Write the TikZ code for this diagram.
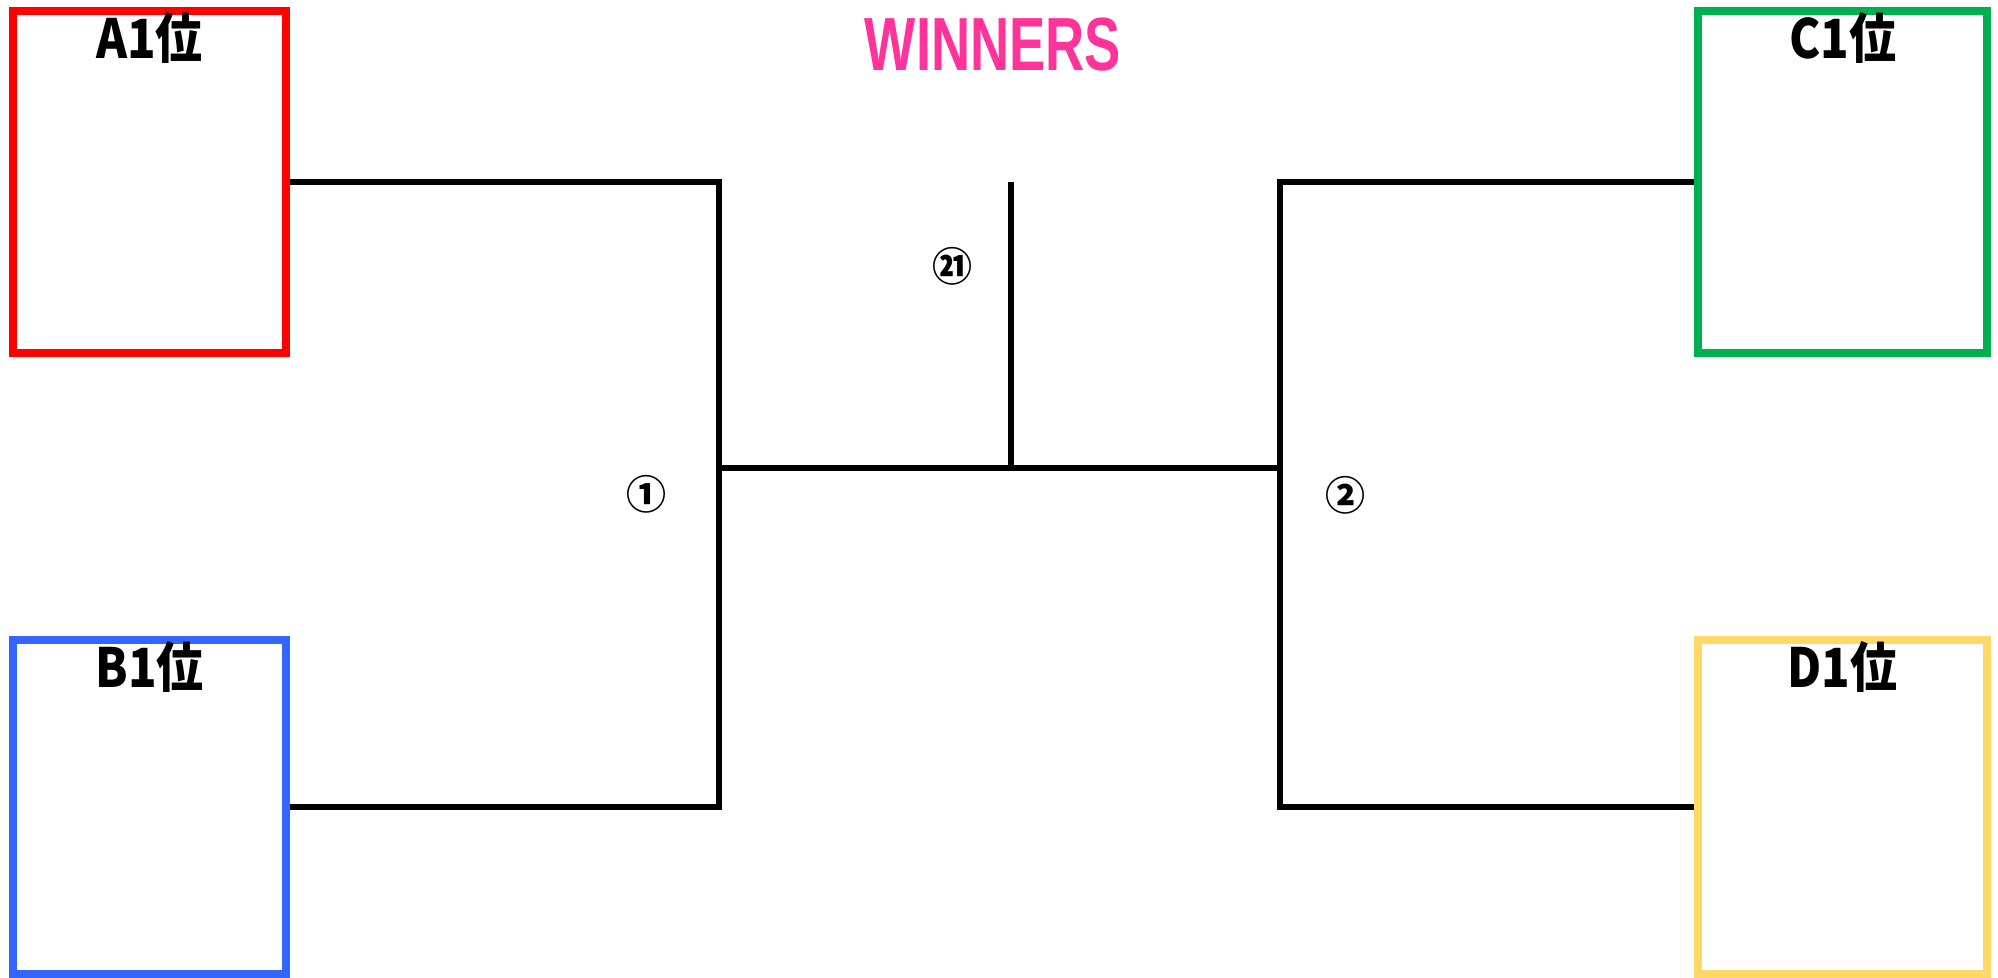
\documentclass[tikz,border=0pt]{standalone}
\usepackage{fontspec}
\usepackage{tikz}
\setmainfont{Liberation Sans}
\newfontfamily\jpfont{Noto Sans CJK JP}

\definecolor{winPink}{HTML}{FF3399}
\definecolor{grpRed}{HTML}{FF0000}
\definecolor{grpBlue}{HTML}{3366FF}
\definecolor{grpGreen}{HTML}{00B050}
\definecolor{grpYellow}{HTML}{FFD966}

\begin{document}
\begin{tikzpicture}[x=0.5pt, y=-0.5pt,
    box/.style={draw, line width=3.8pt, minimum width=136.5pt, inner sep=0pt},
    tag/.style={font=\jpfont\bfseries\fontsize{27}{27}\selectfont, inner sep=0pt},
    num/.style={font=\jpfont\bfseries\fontsize{20}{20}\selectfont, inner sep=0pt},
    bar/.style={line width=2.8pt}]
        \useasboundingbox (0,0) rectangle (1998,978);

        % Boxes
        \node[box, draw=grpRed, minimum height=171pt] (A) at (149.5,182) {};
        \node[box, draw=grpBlue, minimum height=167pt] (B) at (149.5,807) {};
        \node[box, draw=grpGreen, minimum width=144.5pt, minimum height=171pt] (C) at (1842.5,182) {};
        \node[box, draw=grpYellow, minimum width=144.5pt, minimum height=167pt] (D) at (1842.5,807) {};

        % Labels
        \node[tag] (Alab) at ([yshift=-15.5pt]A.north) {\scalebox{0.87}[1]{A1位}};
        \node[tag] (Blab) at ([yshift=-15.5pt]B.north) {\scalebox{0.87}[1]{B1位}};
        \node[tag] (Clab) at ([yshift=-15.5pt]C.north) {\scalebox{0.87}[1]{C1位}};
        \node[tag] (Dlab) at ([yshift=-15.5pt]D.north) {\scalebox{0.87}[1]{D1位}};
        \node[font=\bfseries\fontsize{37.7}{38}\selectfont, text=winPink, inner sep=0pt] (win) at (993,45) {\scalebox{0.72}[1]{WINNERS}};

        % Match points
        \coordinate (m1) at (719,468);
        \coordinate (m2) at (1280,468);
        \coordinate (final) at (1011,182);
        \node[num] (n1) at (646,494) {①};
        \node[num] (n2) at (1345,495) {②};
        \node[num] (n21) at (952,266) {㉑};

        % Edges
        \draw[bar] (A.east) -| (m1);
        \draw[bar] (B.east) -| (m1);
        \draw[bar] (C.west) -| (m2);
        \draw[bar] (D.west) -| (m2);
        \draw[bar] (m1) -- (m2);
        \draw[bar] (final) -- (final |- m1);
    \end{tikzpicture}
\end{document}
